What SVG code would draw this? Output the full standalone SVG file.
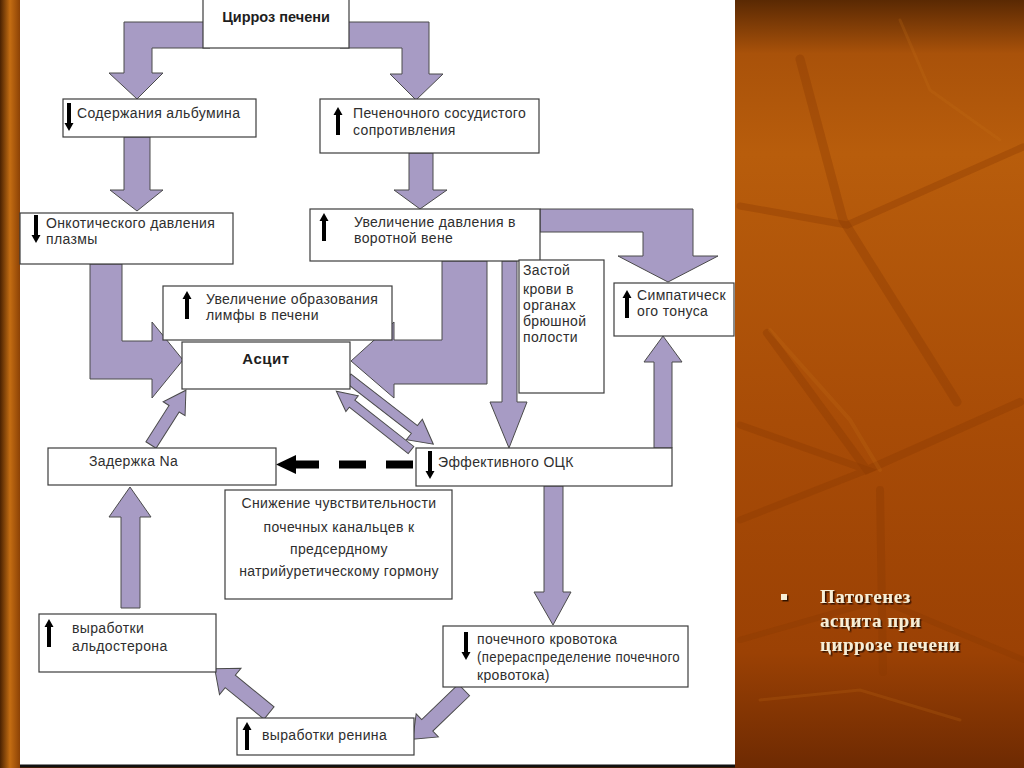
<svg xmlns="http://www.w3.org/2000/svg" width="1024" height="768" viewBox="0 0 1024 768">
<defs>
<style>
.box{fill:#fff;stroke:#3c3c3c;stroke-width:1.2}
.t{font-family:"Liberation Sans",Arial,sans-serif;font-size:14px;fill:#2e2e2e;letter-spacing:0.35px}
.tb{font-family:"Liberation Sans",Arial,sans-serif;font-weight:bold;fill:#1e1e1e}
.arr{fill:#a79bc4;stroke:#4a4a4a;stroke-width:1}
.ic{fill:#000}
.side{font-family:"Liberation Serif","Times New Roman",serif;font-weight:bold;font-size:19px;fill:#f7eed6;letter-spacing:0.5px}
.leafd{fill:none;stroke:#8a3a04;stroke-linecap:round;opacity:0.35}
.leafl{fill:none;stroke:#c8721a;stroke-linecap:round;opacity:0.2}
</style>
<linearGradient id="bgR" x1="0" y1="0" x2="0" y2="1">
<stop offset="0" stop-color="#5a2903"/>
<stop offset="0.07" stop-color="#a9520a"/>
<stop offset="0.2" stop-color="#b85d0c"/>
<stop offset="0.55" stop-color="#a84c07"/>
<stop offset="0.85" stop-color="#9b4104"/>
<stop offset="1" stop-color="#6e2a02"/>
</linearGradient>
<linearGradient id="bgL" x1="0" y1="0" x2="1" y2="0">
<stop offset="0" stop-color="#4a2202"/>
<stop offset="0.5" stop-color="#c46d12"/>
<stop offset="1" stop-color="#8c4206"/>
</linearGradient>
<filter id="sh" x="-10%" y="-10%" width="130%" height="140%">
<feDropShadow dx="1.5" dy="1.5" stdDeviation="0.6" flood-color="#2a1000" flood-opacity="0.9"/>
</filter>
<path id="up" class="ic" d="M-2,28 L-2,8 L-4.5,8 L0,0 L4.5,8 L2,8 L2,28 Z"/>
<path id="dn" class="ic" d="M-2,0 L-2,20 L-4.5,20 L0,28 L4.5,20 L2,20 L2,0 Z"/>
</defs>

<!-- backgrounds -->
<rect x="0" y="0" width="1024" height="768" fill="url(#bgR)"/>
<rect x="0" y="0" width="20" height="768" fill="url(#bgL)"/>
<g id="leaves">
<path class="leafd" stroke-width="9" d="M800,59 L843,220 L957,402"/>
<path class="leafd" stroke-width="7" d="M740,206 L847,225 L1023,147"/>
<path class="leafd" stroke-width="8" d="M767,333 L867,470 L1020,402"/>
<path class="leafd" stroke-width="7" d="M740,425 L867,470 L740,520"/>
<path class="leafd" stroke-width="8" d="M880,490 L883,672"/>
<path class="leafd" stroke-width="6" d="M740,640 L880,600 L1024,660"/>
<path class="leafl" stroke-width="4" d="M770,330 L850,420 L880,470"/>
<path class="leafl" stroke-width="3" d="M900,20 L930,90 L1000,140"/>
<path class="leafl" stroke-width="3" d="M760,700 L860,690 L960,720"/>
</g>
<rect x="20" y="0" width="715" height="766" fill="#fff"/>
<line x1="20" y1="766" x2="735" y2="766" stroke="#111" stroke-width="3"/>

<!-- connectors -->
<g id="connectors">
<path class="arr" d="M210,22 L124,22 L124,73 L109,73 L137,99 L163,73 L152,73 L152,48 L210,48 Z"/>
<path class="arr" d="M340,22 L429,22 L429,74 L443,74 L416,100 L390,74 L402,74 L402,48 L340,48 Z"/>
<path class="arr" d="M124,137 L150,137 L150,190 L163,190 L137,211 L110,190 L124,190 Z"/>
<path class="arr" d="M409,153 L433,153 L433,190 L447,190 L420,209 L394,190 L409,190 Z"/>
<path class="arr" d="M90,264 L122,264 L122,341 L152,341 L152,322 L183,360 L152,398 L152,379 L90,379 Z"/>
<path class="arr" d="M442,261 L487,261 L487,384 L394,384 L394,398 L351,361 L394,322 L394,340 L442,340 Z"/>
<path class="arr" d="M502,261 L517,261 L517,402 L527,402 L509,448 L490,402 L502,402 Z"/>
<path class="arr" d="M540,209 L693,209 L693,256 L718,256 L668,282 L618,256 L643,256 L643,232 L540,232 Z"/>
<path class="arr" d="M654,448 L672,448 L672,362 L682,362 L663,336 L644,362 L654,362 Z"/>
<path class="arr" d="M544,486 L563,486 L563,592 L571,592 L553,625 L534,592 L544,592 Z"/>
<path class="arr" d="M121,608 L140,608 L140,517 L151,517 L130,487 L109,517 L121,517 Z"/>
<polygon class="arr" transform="translate(348,378) rotate(37.8)" points="0,-5 84,-5 84,-13 108,0 84,13 84,5 0,5"/>
<polygon class="arr" transform="translate(411,450) rotate(218.2)" points="0,-4.5 75,-4.5 75,-10 95,0 75,10 75,4.5 0,4.5"/>
<polygon class="arr" transform="translate(151,445) rotate(-57.5)" points="0,-6 43,-6 43,-13 65,0 43,13 43,6 0,6"/>
<polygon class="arr" transform="translate(269,713) rotate(219.2)" points="0,-8 50,-8 50,-17 70,0 50,17 50,8 0,8"/>
<polygon class="arr" transform="translate(464,690) rotate(136.1)" points="0,-8 51,-8 51,-16 71,0 51,16 51,8 0,8"/>
<line x1="413" y1="464.5" x2="295" y2="464.5" stroke="#000" stroke-width="8" stroke-dasharray="27 20"/>
<polygon points="276,464.5 296,455 296,474" fill="#000"/>
</g>

<!-- nodes -->
<g id="cirrhosis">
<rect class="box" x="203" y="-1" width="146" height="49"/>
<text class="tb" x="276" y="22" font-size="14.5" text-anchor="middle">Цирроз печени</text>
</g>
<g id="albumin">
<rect class="box" x="63" y="99" width="193" height="38"/>
<use href="#dn" x="69" y="103"/>
<text class="t" x="77" y="118">Содержания альбумина</text>
</g>
<g id="resistance">
<rect class="box" x="320" y="99" width="219" height="54"/>
<use href="#up" x="338" y="107"/>
<text class="t" x="353" y="118">Печеночного сосудистого</text>
<text class="t" x="353" y="135">сопротивления</text>
</g>
<g id="oncotic">
<rect class="box" x="20" y="213" width="213" height="51"/>
<use href="#dn" x="36" y="215"/>
<text class="t" x="46" y="228">Онкотического давления</text>
<text class="t" x="46" y="244">плазмы</text>
</g>
<g id="portal">
<rect class="box" x="310" y="209" width="230" height="52"/>
<use href="#up" x="324" y="213"/>
<text class="t" x="354" y="227">Увеличение давления в</text>
<text class="t" x="354" y="243">воротной вене</text>
</g>
<g id="lymph">
<rect class="box" x="163" y="286" width="229" height="54"/>
<use href="#up" x="187" y="291"/>
<text class="t" x="206" y="304">Увеличение образования</text>
<text class="t" x="206" y="320">лимфы в печени</text>
</g>
<g id="ascites">
<rect class="box" x="182" y="342" width="168" height="47"/>
<text class="tb" x="266" y="364" font-size="15" text-anchor="middle" letter-spacing="0.5">Асцит</text>
</g>
<g id="stasis">
<rect class="box" x="519" y="260" width="85" height="133"/>
<text class="t" x="523" y="275">Застой</text>
<text class="t" x="523" y="294">крови в</text>
<text class="t" x="523" y="310">органах</text>
<text class="t" x="523" y="326">брюшной</text>
<text class="t" x="523" y="342">полости</text>
</g>
<g id="sympathetic">
<rect class="box" x="614" y="283" width="120" height="53"/>
<use href="#up" x="627" y="290"/>
<text class="t" x="637" y="300">Симпатическ</text>
<text class="t" x="637" y="316">ого тонуса</text>
</g>
<g id="sodium">
<rect class="box" x="48" y="448" width="228" height="37"/>
<text class="t" x="89" y="466">Задержка Na</text>
</g>
<g id="effective">
<rect class="box" x="416" y="448" width="256" height="38"/>
<use href="#dn" x="430" y="451"/>
<text class="t" x="438" y="467">Эффективного ОЦК</text>
</g>
<g id="desensitization">
<rect class="box" x="225" y="490" width="227" height="109"/>
<text class="t" x="339" y="508" text-anchor="middle">Снижение чувствительности</text>
<text class="t" x="339" y="532" text-anchor="middle">почечных канальцев к</text>
<text class="t" x="339" y="554" text-anchor="middle">предсердному</text>
<text class="t" x="339" y="576" text-anchor="middle">натрийуретическому гормону</text>
</g>
<g id="aldosterone">
<rect class="box" x="39" y="614" width="177" height="58"/>
<use href="#up" x="49" y="619"/>
<text class="t" x="72" y="633">выработки</text>
<text class="t" x="72" y="651">альдостерона</text>
</g>
<g id="renal">
<rect class="box" x="443" y="626" width="245" height="61"/>
<use href="#dn" x="466" y="632"/>
<text class="t" x="477" y="644">почечного кровотока</text>
<text class="t" x="477" y="662" textLength="203" lengthAdjust="spacingAndGlyphs">(перераспределение почечного</text>
<text class="t" x="477" y="680">кровотока)</text>
</g>
<g id="renin">
<rect class="box" x="237" y="718" width="177" height="37"/>
<use href="#up" x="247" y="722"/>
<text class="t" x="262" y="740">выработки ренина</text>
</g>

<!-- side caption -->
<g id="caption" filter="url(#sh)">
<rect x="781" y="594" width="6" height="6" fill="#f7eed6"/>
<text class="side" x="820" y="603">Патогенез</text>
<text class="side" x="820" y="627">асцита при</text>
<text class="side" x="820" y="651">циррозе печени</text>
</g>
</svg>
